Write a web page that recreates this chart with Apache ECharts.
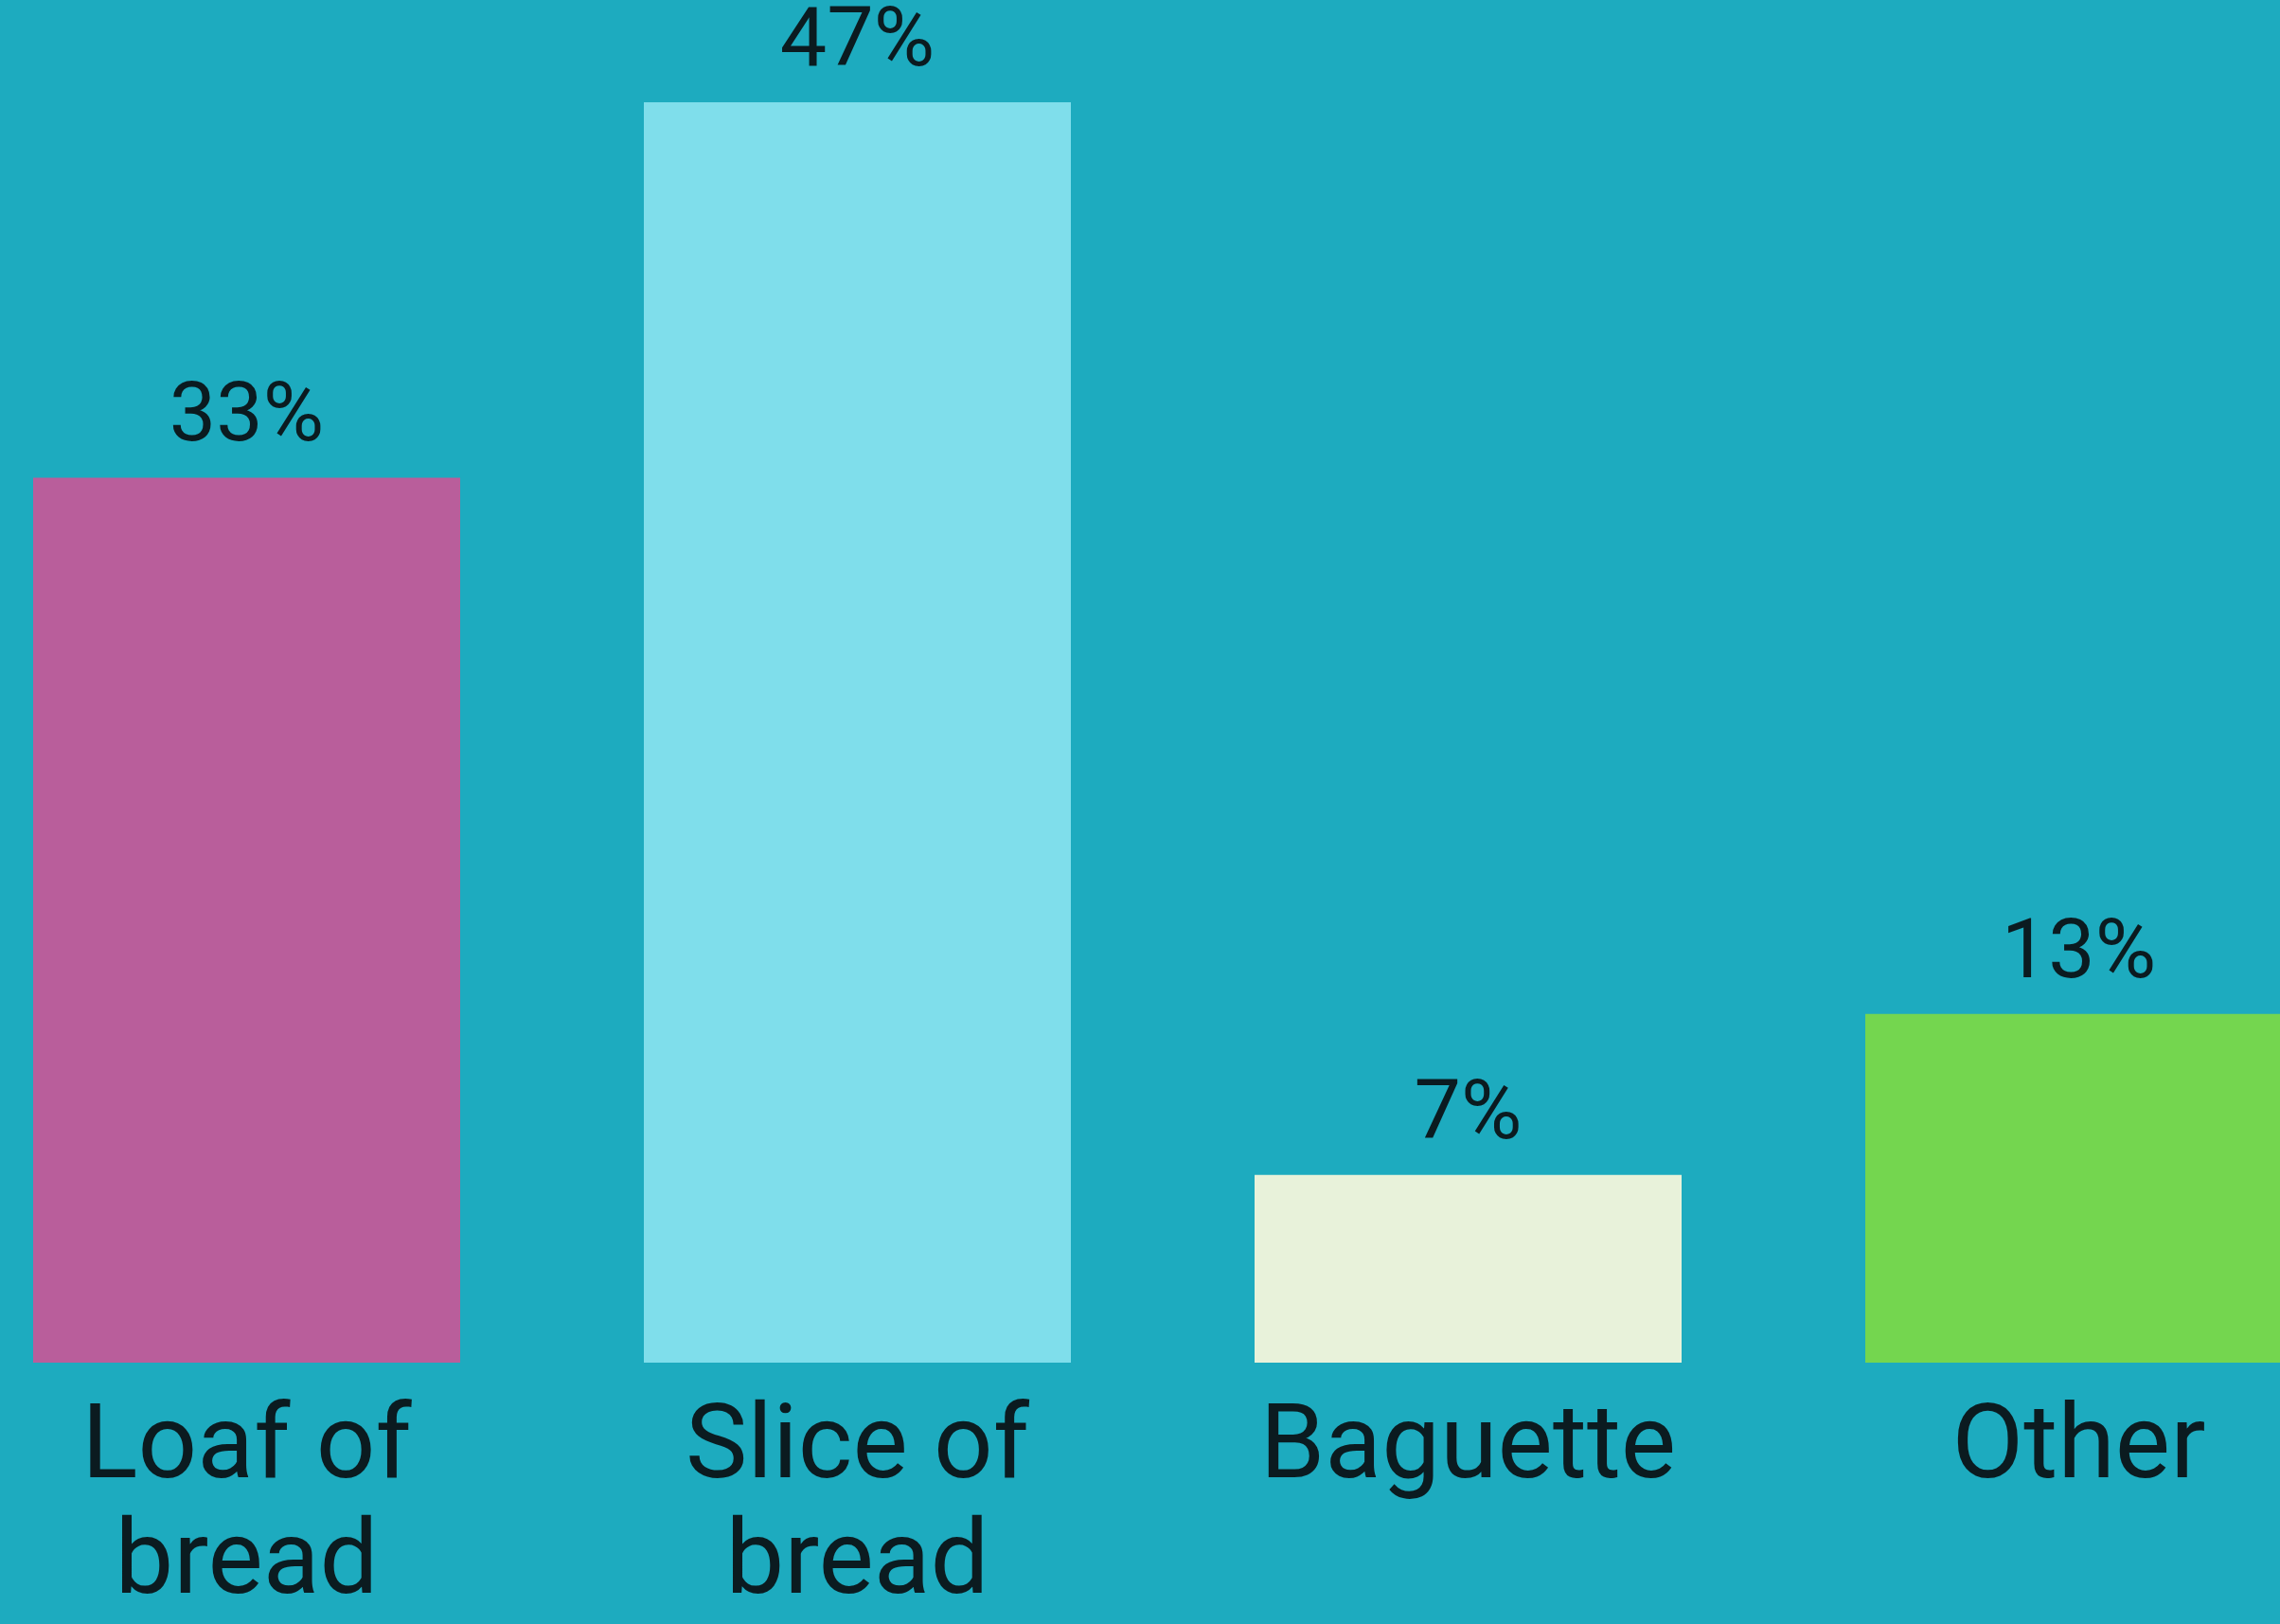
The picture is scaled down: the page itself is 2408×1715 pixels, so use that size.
<!DOCTYPE html>
<html>
<head>
<meta charset="utf-8">
<script src="https://cdn.jsdelivr.net/npm/echarts@6/dist/echarts.min.js"></script>
<style>
  html, body { margin: 0; padding: 0; background: #1dabbf; overflow: hidden; width: 2408px; height: 1715px; }
  /* the plot runs past both edges of the page, so the last bar is cropped on the right */
  #chart { position: absolute; left: -62px; top: 0; width: 2580px; height: 1715px; }
</style>
</head>
<body>
<div id="chart"></div>
<script>
// Bread preference shares
const categories = ['Loaf of\nbread', 'Slice of\nbread', 'Baguette', 'Other'];
const shares = [33, 47, 7, 13];
const barColors = ['#b95e9b', '#7fdeeb', '#e8f2da', '#74d64f'];

const chart = echarts.init(document.getElementById('chart'), null, { renderer: 'canvas' });

chart.setOption({
  animation: false,
  backgroundColor: '#1dabbf',
  grid: { left: 0, right: 0, top: 23, bottom: 260, containLabel: false },
  xAxis: {
    type: 'category',
    data: categories,
    axisLine: { show: false },
    axisTick: { show: false },
    axisLabel: {
      color: '#0b1b20',
      fontFamily: 'Roboto',
      fontSize: 110,
      lineHeight: 122,
      margin: 32,
      interval: 0
    }
  },
  yAxis: {
    type: 'value',
    min: 0,
    max: 50,
    show: false,
    splitLine: { show: false }
  },
  series: [{
    type: 'bar',
    data: shares,
    barWidth: 451,
    itemStyle: {
      color: (p) => barColors[p.dataIndex]
    },
    label: {
      show: true,
      position: 'top',
      distance: 17,
      formatter: '{c}%',
      color: '#0b1b20',
      fontFamily: 'Roboto',
      fontSize: 88
    }
  }]
});
</script>
</body>
</html>
